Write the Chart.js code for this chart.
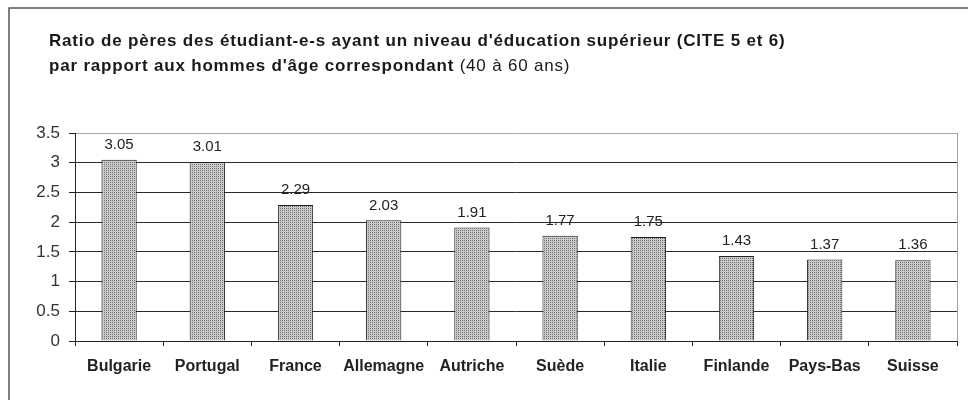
<!DOCTYPE html>
<html>
<head>
<meta charset="utf-8">
<script src="https://cdn.jsdelivr.net/npm/chart.js@4"></script>
<style>
  html, body { margin: 0; padding: 0; background: #fff; }
  #wrap { position: relative; width: 968px; height: 400px; overflow: hidden; }
  #title {
    position: absolute; left: 49px; top: 28px; white-space: nowrap;
    font-family: Arial, "Liberation Sans", sans-serif; font-size: 17px;
    letter-spacing: 0.8px; font-weight: bold; color: #1a1a1a; line-height: 25px;
  }
  #title span { font-weight: normal; }
  canvas { position: absolute; left: 0; top: 0; }
</style>
</head>
<body>
<div id="wrap">
  <canvas id="chart" width="968" height="400"></canvas>
  <div id="title">
    Ratio de pères des étudiant-e-s ayant un niveau d'éducation supérieur (CITE 5 et 6)<br>
    par rapport aux hommes d'âge correspondant <span>(40 à 60 ans)</span>
  </div>
</div>
<script>
const countries = ['Bulgarie', 'Portugal', 'France', 'Allemagne', 'Autriche', 'Suède', 'Italie', 'Finlande', 'Pays-Bas', 'Suisse'];
const ratios = [3.05, 3.01, 2.29, 2.03, 1.91, 1.77, 1.75, 1.43, 1.37, 1.36];
const yMax = 3.5;
const yStep = 0.5;

const FONT = 'Arial, "Liberation Sans", sans-serif';

// stipple fill like the old spreadsheet pattern
function makePattern() {
  const c = document.createElement('canvas');
  c.width = 2; c.height = 2;
  const p = c.getContext('2d');
  p.fillStyle = '#cbcbcb';
  p.fillRect(0, 0, 2, 2);
  p.fillStyle = '#707070';
  p.fillRect(0, 0, 1, 1);
  return p.createPattern(c, 'repeat');
}

// value labels above bars + frame lines
Chart.register({
  id: 'extras',
  afterDatasetsDraw(chart) {
    const ctx = chart.ctx;
    const meta = chart.getDatasetMeta(0);
    ctx.save();
    ctx.font = '15px ' + FONT;
    ctx.fillStyle = '#222';
    ctx.textAlign = 'center';
    ctx.textBaseline = 'middle';
    meta.data.forEach((bar, i) => {
      ctx.fillText(ratios[i].toFixed(2), bar.x, bar.y - 15);
    });
    ctx.restore();
  },
  afterDraw(chart) {
    const ctx = chart.ctx;
    const a = chart.chartArea;
    ctx.save();
    ctx.strokeStyle = '#a0a0a0';
    ctx.lineWidth = 1;
    ctx.beginPath();
    ctx.moveTo(a.right + 0.5, a.top);
    ctx.lineTo(a.right + 0.5, a.bottom);
    ctx.stroke();
    // outer frame
    ctx.strokeStyle = '#555';
    ctx.lineWidth = 1.5;
    ctx.beginPath();
    ctx.moveTo(9, 400);
    ctx.lineTo(9, 8);
    ctx.lineTo(968, 8);
    ctx.stroke();
    ctx.restore();
  }
});

new Chart(document.getElementById('chart'), {
  type: 'bar',
  data: {
    labels: countries,
    datasets: [{
      data: ratios,
      backgroundColor: makePattern(),
      borderColor: '#222',
      borderWidth: 1,
      categoryPercentage: 1,
      barPercentage: 0.4
    }]
  },
  options: {
    responsive: false,
    animation: false,
    layout: { padding: { left: 0, top: 133, right: 11, bottom: 0 } },
    plugins: {
      legend: { display: false },
      tooltip: { enabled: false },
      title: { display: false }
    },
    scales: {
      x: {
        afterFit(s) { s.height = 59; },
        grid: { drawOnChartArea: false, drawTicks: true, tickLength: 5, color: '#222' },
        border: { color: '#222', width: 1 },
        ticks: {
          color: '#222', padding: 11,
          font: { family: FONT, size: 16, weight: 'bold' }
        }
      },
      y: {
        min: 0, max: yMax,
        afterFit(s) { s.width = 75; },
        grid: {
          color: c => c.tick && c.tick.value === yMax ? '#a8a8a8' : '#2a2a2a',
          tickColor: '#222',
          tickLength: 6
        },
        border: { color: '#222', width: 1 },
        ticks: {
          stepSize: yStep, color: '#333', padding: 9,
          font: { family: FONT, size: 17 },
          callback: v => String(v)
        }
      }
    }
  }
});
</script>
</body>
</html>
